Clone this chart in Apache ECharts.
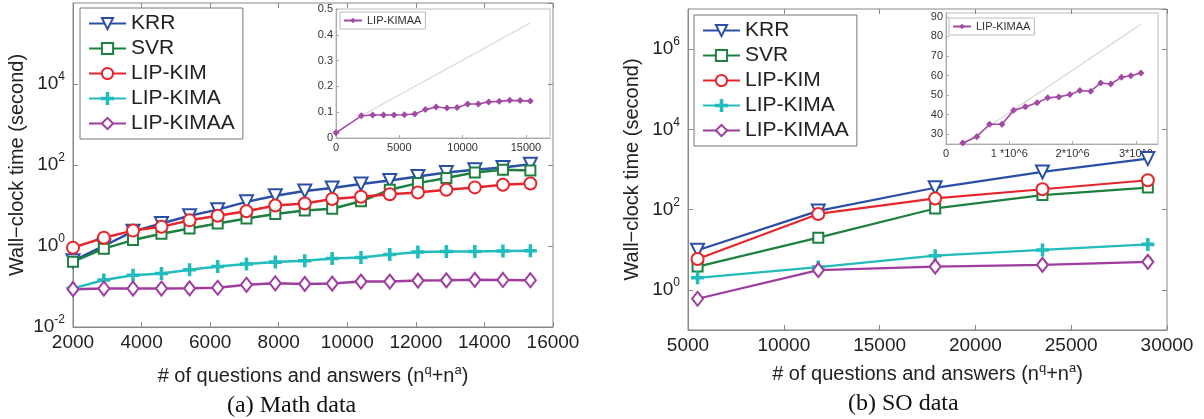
<!DOCTYPE html>
<html style="height: 100%">
<head>
    <meta charset="utf-8">
    <title>Wall-clock time</title>
    <script type="text/javascript" src="https://cdn.jsdelivr.net/npm/echarts@6/dist/echarts.min.js"></script>
</head>
<body style="height: 100%; margin: 0; background: #fff;">
<div id="container" style="width: 1204px; height: 419px;"></div>
<script type="text/javascript">
    // (a) Math data
    var mathX = [2000, 2900, 3750, 4580, 5400, 6220, 7060, 7900, 8760, 9560, 10400, 11240, 12060, 12890, 13720, 14540, 15340];
    var mathKRR = [0.43, 1.0, 2.3, 3.6, 5.6, 7.9, 12.3, 17.5, 22.8, 27, 34, 41.5, 52, 65, 76, 87, 105];
    var mathSVR = [0.41, 0.86, 1.4, 2.0, 2.7, 3.6, 4.8, 6.2, 7.5, 8.3, 12.7, 24.5, 35.7, 47.5, 65, 76, 73];
    var mathKIM = [0.91, 1.6, 2.4, 3.0, 4.3, 5.6, 7.2, 10, 11.2, 14.5, 16.5, 19, 21, 24.5, 28, 32.5, 35];
    var mathKIMA = [0.09, 0.145, 0.19, 0.21, 0.26, 0.31, 0.36, 0.40, 0.43, 0.49, 0.52, 0.62, 0.71, 0.73, 0.73, 0.75, 0.76];
    var mathKIMAA = [0.086, 0.089, 0.089, 0.089, 0.09, 0.093, 0.11, 0.12, 0.116, 0.118, 0.132, 0.132, 0.14, 0.142, 0.146, 0.145, 0.143];
    var mathInsetStart = [0, 0.02];
    var mathInsetRef = [[2000, 0.086], [15340, 0.446]];

    // (b) SO data
    var soX = [5500, 11800, 17900, 23500, 29000];
    var soKRR = [9.7, 93, 350, 870, 1870];
    var soSVR = [3.8, 20, 107, 230, 355];
    var soKIM = [5.9, 78, 190, 322, 540];
    var soKIMA = [2.0, 3.7, 7.1, 9.9, 13.6];
    var soKIMAA = [0.6, 3.1, 3.8, 4.2, 5.0];
    var soInsetX = [265000, 487000, 688000, 884000, 1069000, 1254000, 1440000, 1608000, 1783000, 1958000, 2116000, 2286000, 2444000, 2603000, 2772000, 2920000, 3080000];
    var soInsetY = [25.5, 28.7, 35.1, 35.1, 42.2, 44.1, 46.1, 48.6, 49.1, 50.3, 52.3, 52.0, 56.2, 55.7, 59.1, 59.9, 61.3];
    var soInsetRef = [[265000, 25], [3080000, 86.3]];
    var soInsetTicks = [30, 40, 50, 60, 70, 80, 90];
    var soInsetXLabels = ['0', '1 *10^6', '2*10^6', '3*10^6'];

    var methods = ['KRR', 'SVR', 'LIP-KIM', 'LIP-KIMA', 'LIP-KIMAA'];
    var colors = ['#2b4ea6', '#1d8040', '#e6262c', '#22bcbc', '#9e3ca0'];
    var plusPath = 'path://M4.3,0h1.4v4.3h4.3v1.4h-4.3v4.3h-1.4v-4.3h-4.3v-1.4h4.3z';
    var symbols = ['emptyTriangle', 'emptyRect', 'emptyCircle', plusPath, 'emptyDiamond'];
    var symbolSizes = [13, 10, 12, 11, [11, 14]];
    var font = 'Liberation Sans';

    function pairs(xs, ys) {
        return xs.map(function (x, i) { return [x, ys[i]]; });
    }

    function plain(v) {
        return String(v);
    }

    function powLabel(v) {
        var e = Math.round(Math.log10(v));
        return '{b|10}{s|' + e + '}';
    }
    var powRich = {
        b: {fontSize: 19, fontFamily: font, color: '#222'},
        s: {fontSize: 12, fontFamily: font, color: '#222', padding: [0, 0, 14, 0]}
    };
    var supRich = {
        s: {fontSize: 13, fontFamily: font, color: '#222', padding: [0, 0, 12, 0]}
    };

    function mainX(grid, min, max, step, gap) {
        return [{
            gridIndex: grid, type: 'value', min: min, max: max, interval: step,
            name: '# of questions and answers (n{s|q}+n{s|a})',
            nameLocation: 'middle', nameGap: gap,
            nameTextStyle: {fontSize: 20, fontFamily: font, color: '#222', rich: supRich},
            axisLine: {lineStyle: {color: '#888'}},
            axisTick: {inside: true, length: 5, lineStyle: {color: '#888'}},
            axisLabel: {fontSize: 19, fontFamily: font, color: '#222', margin: 6, formatter: plain},
            splitLine: {show: false}
        }, {
            gridIndex: grid, type: 'value', position: 'top', min: min, max: max, interval: step,
            axisLine: {show: false}, axisLabel: {show: false},
            axisTick: {inside: true, length: 5, lineStyle: {color: '#888'}},
            splitLine: {show: false}
        }];
    }

    function mainY(grid, min, max, showMin) {
        return [{
            gridIndex: grid, type: 'log', logBase: 100, min: min, max: max,
            name: 'Wall\u2212clock time (second)',
            nameLocation: 'middle', nameGap: 46,
            nameTextStyle: {fontSize: 20, fontFamily: font, color: '#222'},
            axisLine: {show: true, lineStyle: {color: '#888'}},
            axisTick: {inside: true, length: 5, lineStyle: {color: '#888'}},
            axisLabel: {formatter: powLabel, rich: powRich, margin: 8, showMaxLabel: false, showMinLabel: showMin},
            splitLine: {show: false}, minorTick: {show: false}
        }, {
            gridIndex: grid, type: 'log', logBase: 100, min: min, max: max, position: 'right',
            axisLine: {show: false}, axisLabel: {show: false},
            axisTick: {inside: true, length: 5, lineStyle: {color: '#888'}},
            splitLine: {show: false}
        }];
    }

    function mainSeries(xAxis, yAxis, xs, lists, width) {
        return lists.map(function (ys, i) {
            return {
                name: methods[i], type: 'line', xAxisIndex: xAxis, yAxisIndex: yAxis,
                data: pairs(xs, ys),
                symbol: symbols[i], symbolSize: symbolSizes[i], symbolRotate: i === 0 ? 180 : 0,
                showAllSymbol: true,
                lineStyle: {color: colors[i], width: width},
                itemStyle: {color: colors[i], borderColor: colors[i], borderWidth: 2}
            };
        });
    }

    var legendBase = {
        orient: 'vertical', itemWidth: 37, itemHeight: 14, itemGap: 4,
        padding: [5, 8, 5, 8], borderColor: '#777', borderWidth: 1, backgroundColor: '#fff',
        textStyle: {fontSize: 21, fontFamily: font, color: '#222', lineHeight: 20},
        data: methods
    };
    var insetLegendBase = {
        orient: 'vertical', itemWidth: 18, itemHeight: 7, padding: [3, 4, 3, 3],
        borderColor: '#bbb', borderWidth: 1, backgroundColor: '#fff',
        textStyle: {fontSize: 11, fontFamily: font, color: '#333'},
        formatter: function () { return 'LIP-KIMAA'; }
    };
    var insetAxisLabel = {fontSize: 11, fontFamily: font, color: '#333', margin: 4};
    var insetLine = {lineStyle: {color: '#aaa'}};
    var insetTick = {inside: true, length: 3, lineStyle: {color: '#aaa'}};

    var myChart = echarts.init(document.getElementById('container'), null, {renderer: 'canvas'});

    var option = {
        animation: false,
        grid: [
            {left: 73, top: 3, width: 480, height: 324, show: true, borderColor: '#888', borderWidth: 1},
            {left: 688, top: 9, width: 479, height: 321, show: true, borderColor: '#888', borderWidth: 1},
            {left: 336, top: 9, width: 214, height: 129, show: true, borderColor: '#bbb', borderWidth: 1, backgroundColor: '#fff'},
            {left: 946, top: 13, width: 212, height: 131, show: true, borderColor: '#bbb', borderWidth: 1, backgroundColor: '#fff'}
        ],
        legend: [
            Object.assign({}, legendBase, {left: 80, top: 8}),
            Object.assign({}, legendBase, {left: 694, top: 15}),
            Object.assign({}, insetLegendBase, {left: 340, top: 12, data: ['insetMath']}),
            Object.assign({}, insetLegendBase, {left: 949, top: 18, data: ['insetSO']})
        ],
        xAxis: mainX(0, 2000, 16000, 2000, 37).concat(mainX(1, 5000, 30000, 5000, 32)).concat([
            {
                gridIndex: 2, type: 'value', min: 0, max: 16900, interval: 5000,
                axisLine: insetLine, axisTick: insetTick, splitLine: {show: false},
                axisLabel: Object.assign({showMaxLabel: false, formatter: plain}, insetAxisLabel)
            },
            {
                gridIndex: 3, type: 'value', min: 0, max: 3350000, interval: 1000000,
                axisLine: insetLine, axisTick: insetTick, splitLine: {show: false},
                axisLabel: Object.assign({
                    showMaxLabel: false,
                    formatter: function (v) { return soInsetXLabels[Math.round(v / 1000000)] || ''; }
                }, insetAxisLabel)
            }
        ]),
        yAxis: mainY(0, 0.01, 1e6, true).concat(mainY(1, 0.1, 1e7, false)).concat([
            {
                gridIndex: 2, type: 'value', min: 0, max: 0.5, interval: 0.1,
                axisLine: Object.assign({show: true}, insetLine), axisTick: insetTick, splitLine: {show: false},
                axisLabel: Object.assign({}, insetAxisLabel, {margin: 3})
            },
            {
                gridIndex: 3, type: 'value', min: 25, max: 92,
                axisLine: Object.assign({show: true}, insetLine),
                axisTick: Object.assign({customValues: soInsetTicks}, insetTick),
                splitLine: {show: false},
                axisLabel: Object.assign({customValues: soInsetTicks}, insetAxisLabel, {margin: 3})
            }
        ]),
        series: mainSeries(0, 0, mathX, [mathKRR, mathSVR, mathKIM, mathKIMA, mathKIMAA], 2.5)
            .concat(mainSeries(2, 2, soX, [soKRR, soSVR, soKIM, soKIMA, soKIMAA], 2.2))
            .concat([
                {
                    name: 'refMath', type: 'line', xAxisIndex: 4, yAxisIndex: 4, data: mathInsetRef,
                    symbol: 'none', lineStyle: {color: '#d6d6d6', width: 1.2}, silent: true
                },
                {
                    name: 'insetMath', type: 'line', xAxisIndex: 4, yAxisIndex: 4,
                    data: [mathInsetStart].concat(pairs(mathX, mathKIMAA)),
                    symbol: 'diamond', symbolSize: 7, showAllSymbol: true,
                    lineStyle: {color: '#a24aa4', width: 1.6}, itemStyle: {color: '#a24aa4'}
                },
                {
                    name: 'refSO', type: 'line', xAxisIndex: 5, yAxisIndex: 5, data: soInsetRef,
                    symbol: 'none', lineStyle: {color: '#d6d6d6', width: 1.2}, silent: true
                },
                {
                    name: 'insetSO', type: 'line', xAxisIndex: 5, yAxisIndex: 5,
                    data: pairs(soInsetX, soInsetY),
                    symbol: 'diamond', symbolSize: 7, showAllSymbol: true,
                    lineStyle: {color: '#a24aa4', width: 1.6}, itemStyle: {color: '#a24aa4'}
                }
            ]),
        graphic: [
            {type: 'text', left: 227, top: 394, style: {text: '(a) Math data', font: '24px "Liberation Serif"', fill: '#111'}},
            {type: 'text', left: 848, top: 392, style: {text: '(b) SO data', font: '24px "Liberation Serif"', fill: '#111'}}
        ]
    };
    myChart.setOption(option, true);
</script>
</body>
</html>
